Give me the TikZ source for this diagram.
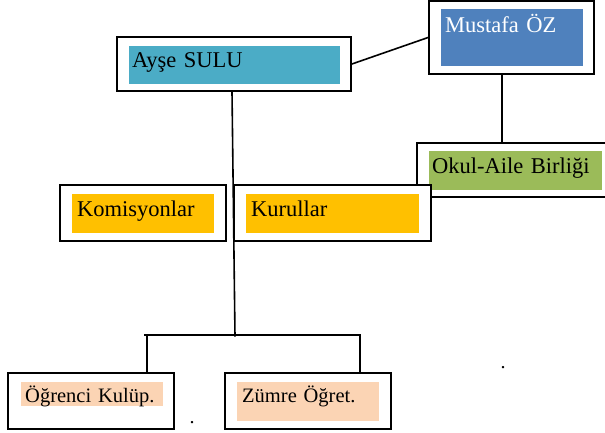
\documentclass[tikz,border=0pt]{standalone}
\usepackage{fontspec}
\setmainfont{Liberation Serif}
\usetikzlibrary{backgrounds}
\definecolor{mustafablue}{HTML}{4F81BD}
\definecolor{ayseteal}{HTML}{4BACC6}
\definecolor{okulgreen}{HTML}{9BBB59}
\definecolor{kurulorange}{HTML}{FFC000}
\definecolor{kulppeach}{HTML}{FBD4B4}
\begin{document}
\begin{tikzpicture}[x=1pt, y=-1pt,
    outerbox/.style={draw, line width=1.8pt, fill=white, inner sep=0pt},
    fillbox/.style={anchor=north west, inner ysep=0pt, align=left, font=\fontsize{22.5}{26}\selectfont},
    link/.style={line width=1.6pt}]
    \useasboundingbox (0,0) rectangle (605,432);
    % top level
    \node[outerbox, minimum width=165pt, minimum height=73pt] (mustafa) at (511.5,37.5) {};
    \node[fillbox, fill=mustafablue, text=white, inner xsep=4pt, text width=134pt, text height=23pt, text depth=34pt] (mustafaText) at (441,9) {Mustafa ÖZ};
    \node[outerbox, minimum width=234pt, minimum height=54pt] (ayse) at (234,64) {};
    \node[fillbox, fill=ayseteal, inner xsep=3pt, text width=205pt, text height=21pt, text depth=17pt] (ayseText) at (129,46) {Ayşe SULU};
    % middle level
    \node[outerbox, minimum width=198pt, minimum height=54pt] (okul) at (516,170) {};
    \node[fillbox, fill=okulgreen, inner xsep=3pt, text width=167pt, text height=22pt, text depth=17pt] (okulText) at (429,151) {Okul-Aile Birliği};
    \node[outerbox, minimum width=166pt, minimum height=56pt] (komisyon) at (143,213) {};
    \node[fillbox, fill=kurulorange, inner xsep=5pt, text width=132pt, text height=22pt, text depth=17pt] (komisyonText) at (72,194) {Komisyonlar};
    \node[outerbox, minimum width=197pt, minimum height=56pt] (kurul) at (332.5,213) {};
    \node[fillbox, fill=kurulorange, inner xsep=5pt, text width=163pt, text height=22pt, text depth=17pt] (kurulText) at (246,194) {Kurullar};
    % bottom level
    \node[outerbox, minimum width=166pt, minimum height=56pt] (kulup) at (91,401) {};
    \node[fillbox, fill=kulppeach, font=\fontsize{20.5}{24}\selectfont, inner xsep=4pt, text width=134pt, text height=20pt, text depth=4pt] (kulupText) at (21,382) {Öğrenci Kulüp.};
    \node[outerbox, minimum width=166pt, minimum height=56pt] (zumre) at (308,401) {};
    \node[fillbox, fill=kulppeach, font=\fontsize{20.5}{24}\selectfont, inner xsep=5pt, text width=132pt, text height=20pt, text depth=19pt] (zumreText) at (237,382) {Zümre Öğret.};
    % stray dots
    \node[font=\fontsize{20}{24}\selectfont, inner sep=0pt, anchor=base] (dotLeft) at (192,423) {.};
    \node[font=\fontsize{20}{24}\selectfont, inner sep=0pt, anchor=base] (dotRight) at (503,368) {.};
    % connectors
    \coordinate (hub) at (235,335);
    \coordinate (kulupTop) at (147,335);
    \coordinate (zumreTop) at (360,335);
    \begin{scope}[on background layer]
        \draw[link] (ayse.east) -- (mustafa.west);
        \draw[link] ([xshift=-9.5pt]mustafa.south) -- ([xshift=-9.5pt]mustafa.south |- okul.north);
        \draw[link] ([xshift=-2pt]ayse.south) -- ([yshift=-1.5pt]hub);
        \draw[link] ([xshift=-3pt]kulupTop) -- ([xshift=1pt]zumreTop);
        \draw[link] (kulupTop) -- (kulupTop |- kulup.north);
        \draw[link] (zumreTop) -- (zumreTop |- zumre.north);
    \end{scope}
\end{tikzpicture}
\end{document}
